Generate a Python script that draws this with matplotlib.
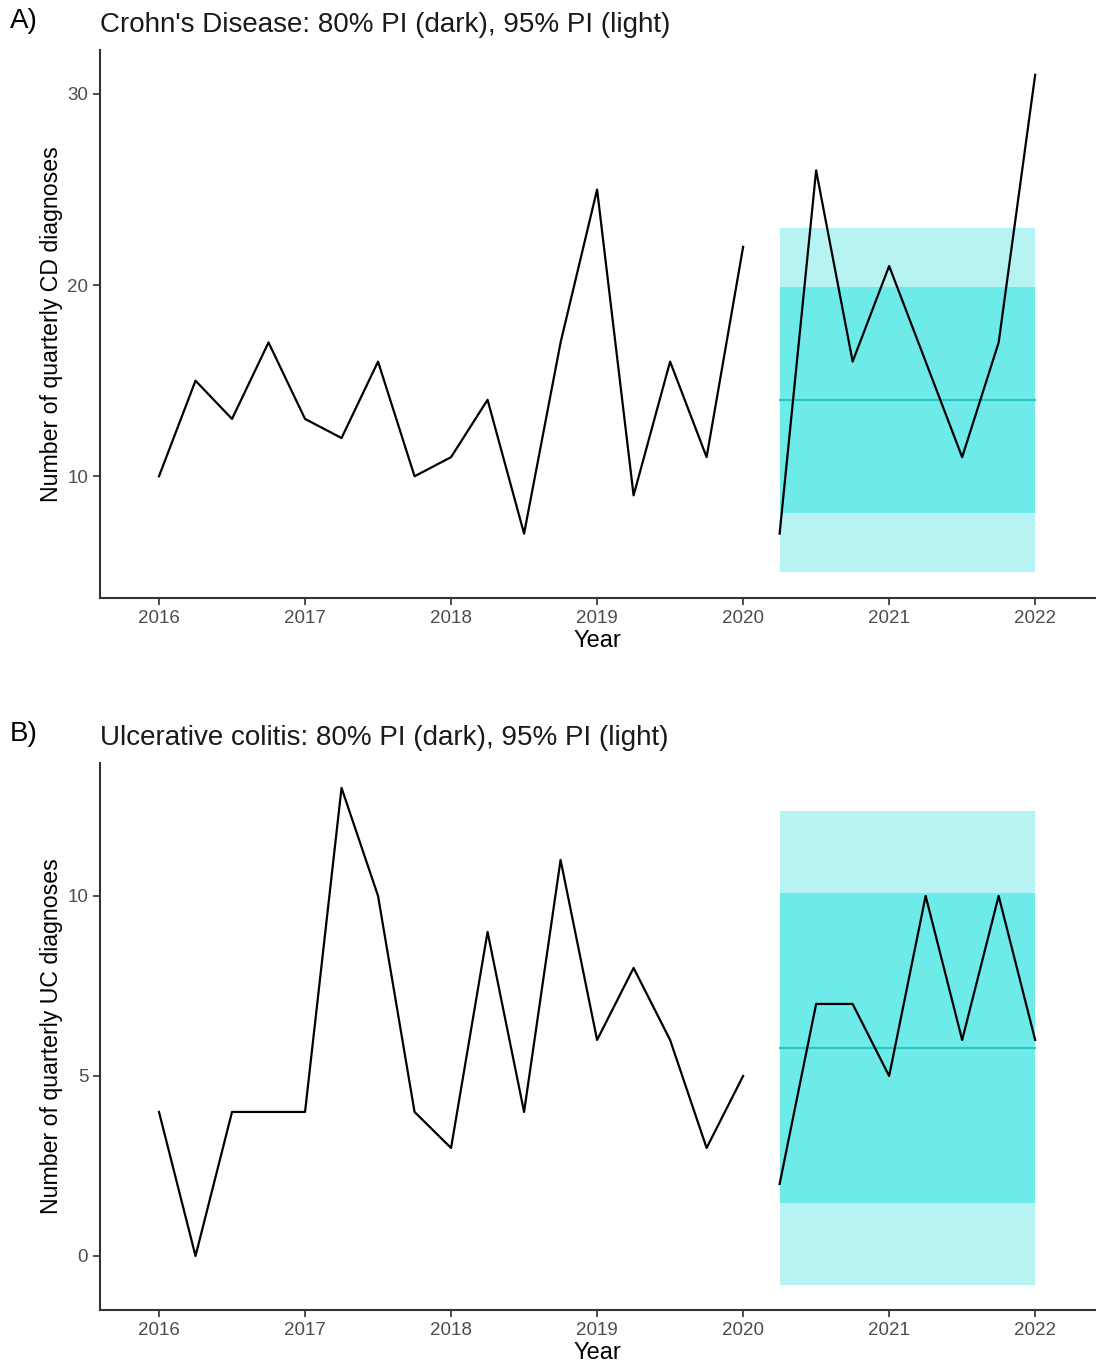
import numpy as np
import matplotlib
matplotlib.use("Agg")
import matplotlib.pyplot as plt

plt.rcParams['font.family'] = ['Liberation Sans', 'DejaVu Sans']

# quarterly time points 2016 Q1 .. 2022 Q1
years = np.arange(2016, 2022.01, 0.25)

# Crohn's disease quarterly counts
cd_counts = [10, 15, 13, 17, 13, 12, 16, 10, 11, 14, 7, 17, 25, 9, 16, 11, 22,
             7, 26, 16, 21, 16, 11, 17, 31]
# UC quarterly counts
uc_counts = [4, 0, 4, 4, 4, 13, 10, 4, 3, 9, 4, 11, 6, 8, 6, 3, 5,
             2, 7, 7, 5, 10, 6, 10, 6]

# prediction period and intervals (mean, 80% lo/hi, 95% lo/hi)
pred_x = [2020.25, 2022.0]
cd_pred = {"mean": 14.0, "lo80": 8.07, "hi80": 19.9, "lo95": 4.99, "hi95": 23.0}
uc_pred = {"mean": 5.78, "lo80": 1.47, "hi80": 10.08, "lo95": -0.81, "hi95": 12.36}

titles = ["Crohn's Disease: 80% PI (dark), 95% PI (light)",
          "Ulcerative colitis: 80% PI (dark), 95% PI (light)"]
ylabels = ["Number of quarterly CD diagnoses", "Number of quarterly UC diagnoses"]
panel_tags = ["A)", "B)"]

fig = plt.figure(figsize=(10.99, 13.66), dpi=100)
ax_a = fig.add_axes([0.091, 0.5622, 0.9054, 0.4012])
ax_b = fig.add_axes([0.091, 0.0410, 0.9054, 0.4004])

light = "#b6f3f2"
dark = "#6eeae8"
mean_col = "#2bc4c0"

for ax, counts, pred, title, ylab, tag, ylim, yt in [
        (ax_a, cd_counts, cd_pred, titles[0], ylabels[0], panel_tags[0], (3.63, 32.3), [10, 20, 30]),
        (ax_b, uc_counts, uc_pred, titles[1], ylabels[1], panel_tags[1], (-1.5, 13.69), [0, 5, 10])]:
    ax.fill_between(pred_x, pred["lo95"], pred["hi95"], color=light, lw=0, zorder=1)
    ax.fill_between(pred_x, pred["lo80"], pred["hi80"], color=dark, lw=0, zorder=2)
    ax.plot(pred_x, [pred["mean"], pred["mean"]], color=mean_col, lw=1.5, zorder=3)

    # observed before prediction, then observed during prediction period
    n = 17
    ax.plot(years[:n], counts[:n], color="black", lw=1.6, zorder=4)
    ax.plot(years[n:], counts[n:], color="black", lw=1.6, zorder=4)

    ax.set_xlim(2015.596, 2022.41)
    ax.set_ylim(*ylim)
    ax.set_xticks(range(2016, 2023))
    ax.set_yticks(yt)
    for s in ["top", "right"]:
        ax.spines[s].set_visible(False)
    for s in ["left", "bottom"]:
        ax.spines[s].set_color("#333333")
        ax.spines[s].set_linewidth(1.5)
    ax.tick_params(colors="#333333", labelcolor="#4d4d4d", labelsize=13.5,
                   length=5, width=1.2)
    ax.set_xlabel("Year", fontsize=17, color="black", labelpad=2)
    ax.set_ylabel(ylab, fontsize=16.7, color="black", labelpad=3)
    ax.set_title(title, fontsize=20, loc="left", pad=13, color="#1a1a1a")
    pos = ax.get_position()
    fig.text(0.009, pos.y1 + 0.012, tag, fontsize=20, color="black",
             va="bottom", ha="left")

fig.savefig("out.png", dpi=100)
